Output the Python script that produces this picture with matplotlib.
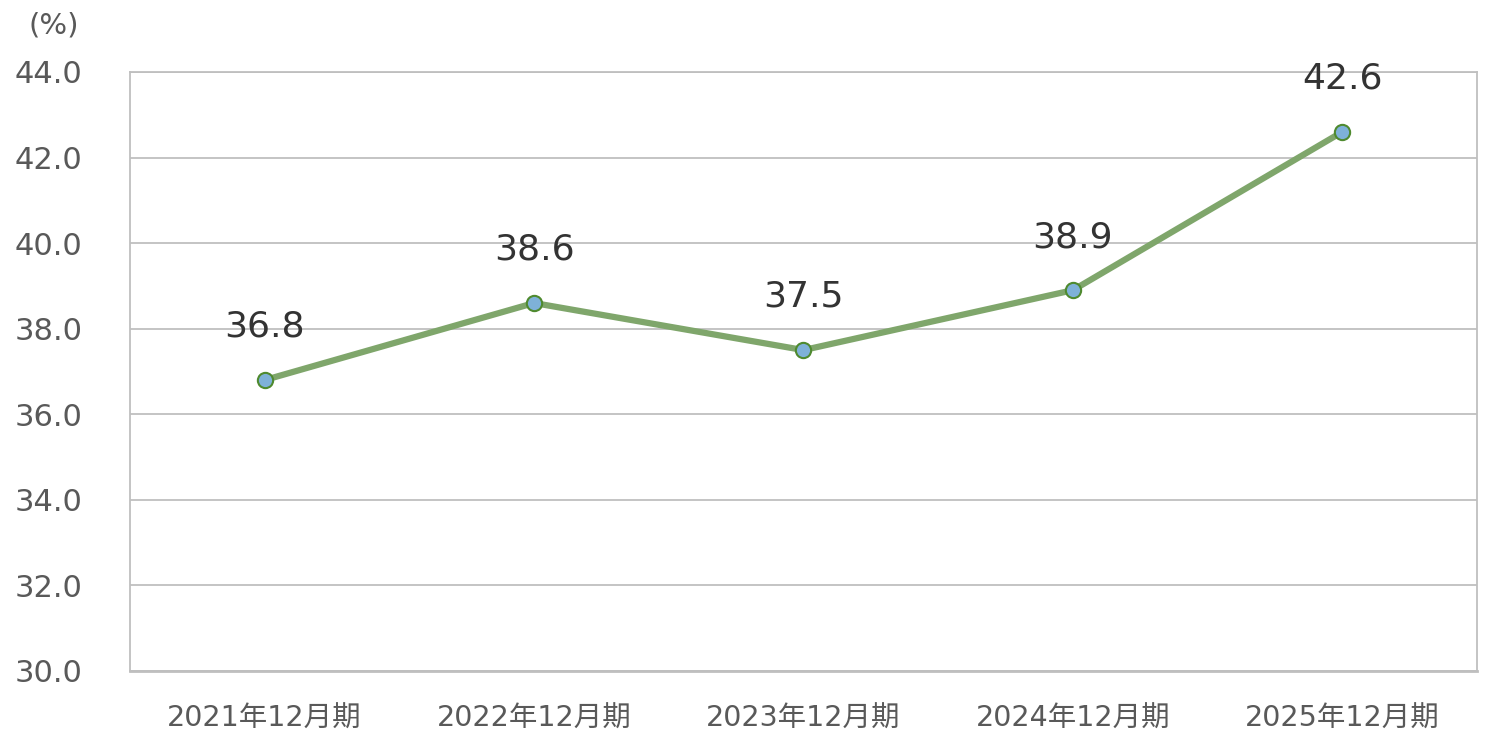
import matplotlib.pyplot as plt

plt.rcParams['font.family'] = ['DejaVu Sans', 'Noto Sans CJK JP']

# data
categories = ['2021年12月期', '2022年12月期', '2023年12月期', '2024年12月期', '2025年12月期']
values = [36.8, 38.6, 37.5, 38.9, 42.6]
yticks = [30, 32, 34, 36, 38, 40, 42, 44]

fig = plt.figure(figsize=(14.9, 7.42), dpi=100)
ax = fig.add_axes([0.0872, 0.0957, 0.9041, 0.8073])

x = list(range(len(categories)))
ax.plot(x, values, color='#7fa66b', linewidth=4.5, solid_capstyle='round', zorder=3,
        marker='o', markersize=11, markerfacecolor='#7eb1d8', markeredgecolor='#4f8a2f',
        markeredgewidth=1.5)

for xi, v in zip(x, values):
    ax.annotate(f'{v:.1f}', (xi, v), xytext=(0, 26), textcoords='offset points',
                ha='center', va='bottom', fontsize=26, color='#333333')

ax.set_xlim(-0.5, len(categories) - 0.5)
ax.set_ylim(30, 44)
ax.set_yticks(yticks)
ax.set_yticklabels([f'{t:.1f}' for t in yticks])
ax.set_xticks(x)
ax.set_xticklabels(categories)
ax.tick_params(axis='y', length=0, pad=34, labelsize=22, labelcolor='#595959')
ax.tick_params(axis='x', length=0, pad=24, labelsize=20.5, labelcolor='#595959')

ax.grid(axis='y', color='#bfbfbf', linewidth=1.3)
ax.set_axisbelow(True)
for s in ax.spines.values():
    s.set_color('#bfbfbf')
    s.set_linewidth(1.3)
ax.spines['bottom'].set_linewidth(2)

fig.text(0.036, 0.965, '(%)', fontsize=21, color='#595959', ha='center', va='center')

plt.savefig('out.png', dpi=100)
